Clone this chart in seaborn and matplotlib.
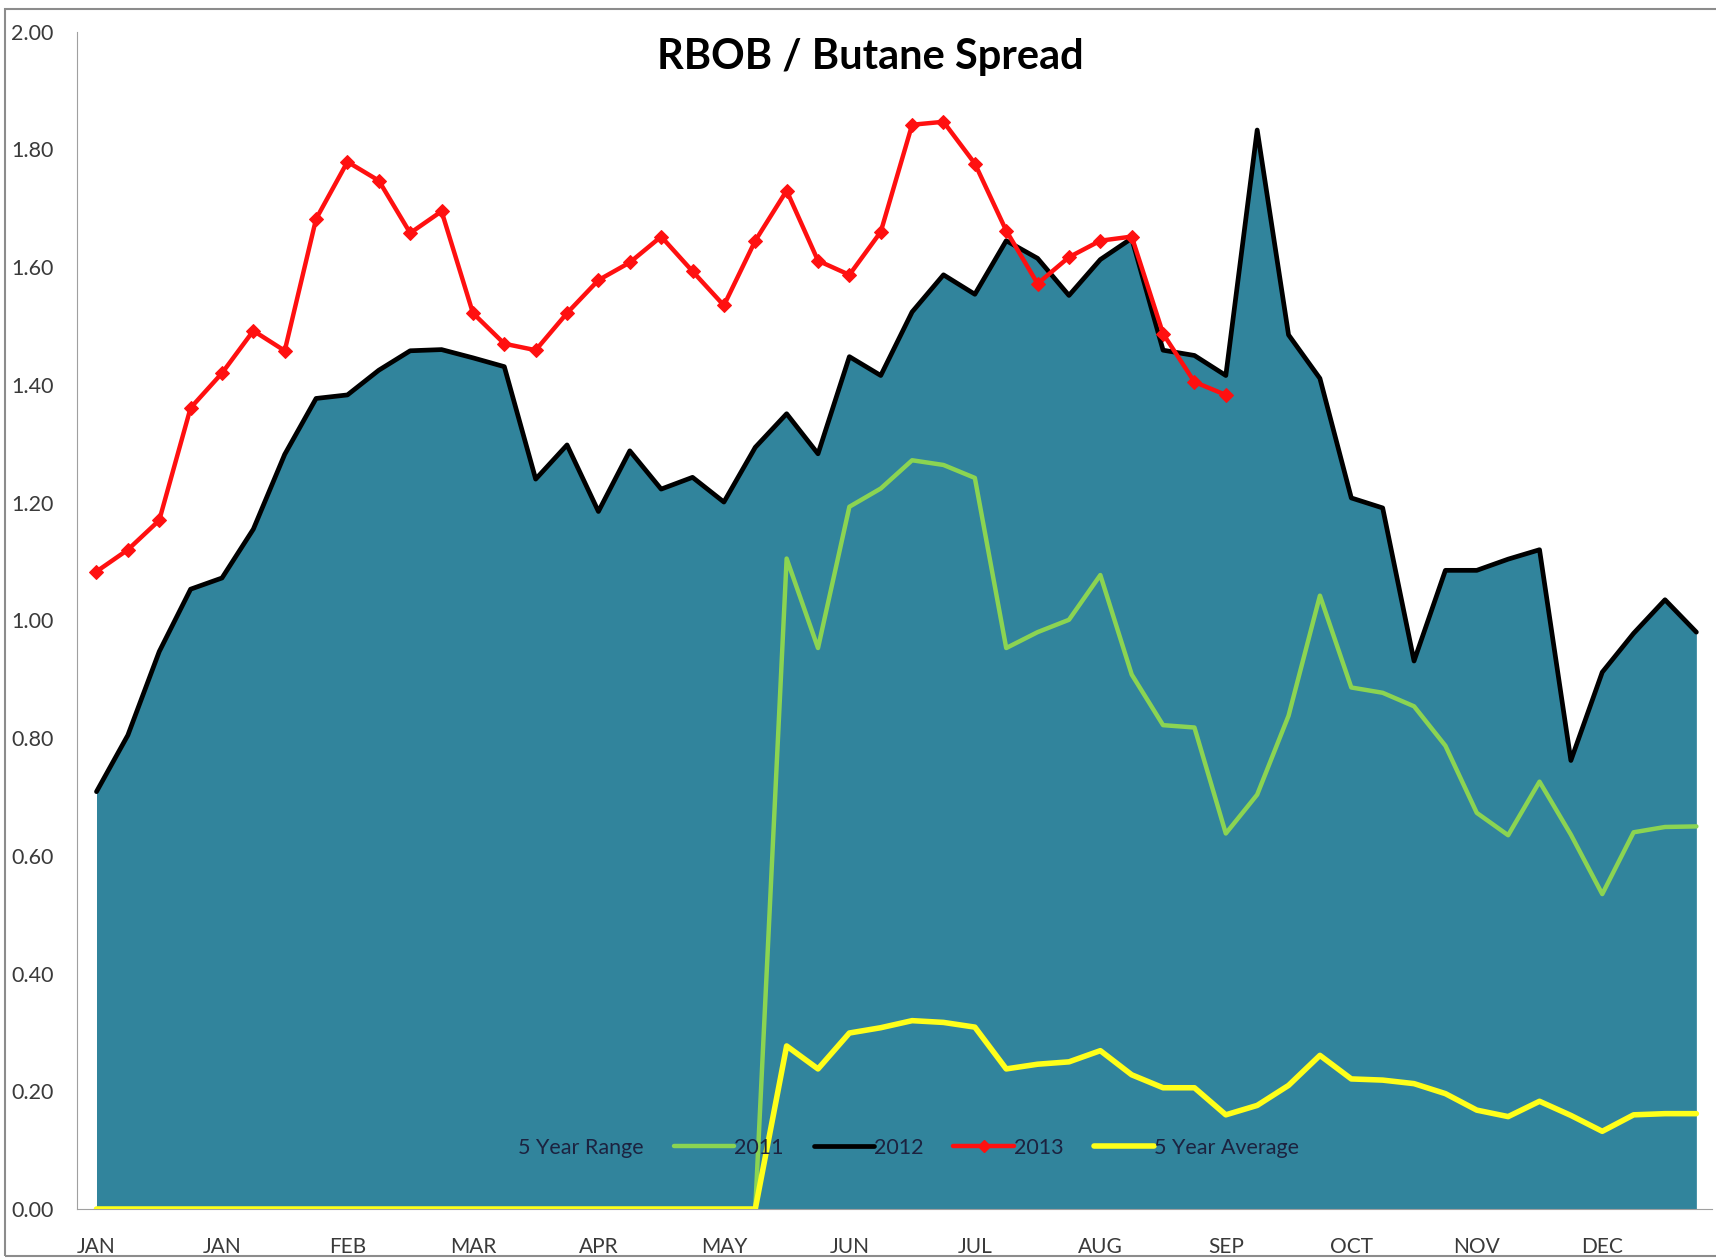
import numpy as np
import pandas as pd
import matplotlib.pyplot as plt
import seaborn as sns
from matplotlib.patches import Patch, Rectangle
from matplotlib.lines import Line2D

# Weekly spread values (52 weeks)
week = np.arange(52)

y2011 = [0, 0, 0, 0, 0, 0, 0, 0, 0, 0, 0, 0, 0, 0, 0, 0, 0, 0, 0, 0, 0, 0,
         1.105, 0.953, 1.193, 1.224, 1.272, 1.264, 1.242, 0.953, 0.980, 1.001,
         1.077, 0.908, 0.822, 0.818, 0.638, 0.704, 0.838, 1.042, 0.886, 0.877,
         0.854, 0.787, 0.673, 0.635, 0.726, 0.636, 0.535, 0.640, 0.649, 0.650]

y2012 = [0.709, 0.805, 0.947, 1.053, 1.072, 1.155, 1.282, 1.377, 1.383, 1.425,
         1.458, 1.460, 1.446, 1.431, 1.240, 1.298, 1.185, 1.288, 1.223, 1.243,
         1.201, 1.294, 1.351, 1.283, 1.448, 1.416, 1.524, 1.587, 1.554, 1.645,
         1.615, 1.552, 1.613, 1.649, 1.459, 1.450, 1.416, 1.833, 1.485, 1.411,
         1.208, 1.191, 0.931, 1.085, 1.085, 1.104, 1.120, 0.762, 0.912, 0.978,
         1.035, 0.980]

y2013 = [1.083, 1.120, 1.170, 1.361, 1.420, 1.492, 1.458, 1.682, 1.779, 1.747,
         1.658, 1.695, 1.522, 1.470, 1.459, 1.522, 1.578, 1.608, 1.652, 1.593,
         1.535, 1.645, 1.730, 1.611, 1.587, 1.660, 1.842, 1.847, 1.776, 1.662,
         1.572, 1.617, 1.645, 1.652, 1.487, 1.405, 1.383]

avg5 = [0, 0, 0, 0, 0, 0, 0, 0, 0, 0, 0, 0, 0, 0, 0, 0, 0, 0, 0, 0, 0, 0,
        0.277, 0.238, 0.299, 0.308, 0.320, 0.317, 0.309, 0.238, 0.246, 0.250,
        0.269, 0.228, 0.206, 0.206, 0.160, 0.176, 0.210, 0.261, 0.221, 0.219,
        0.213, 0.196, 0.168, 0.157, 0.183, 0.159, 0.132, 0.160, 0.162, 0.162]

# upper edge of the 5 year range band follows the 2012 series
range_high = y2012

month_labels = ["JAN", "JAN", "FEB", "MAR", "APR", "MAY", "JUN",
                "JUL", "AUG", "SEP", "OCT", "NOV", "DEC"]

teal = "#31849C"
green = "#8BD452"
red = "#FF1010"
yellow = "#FFFF1A"

sns.set_style("white")
plt.rcParams['font.family'] = ['Lato', 'DejaVu Sans']

fig = plt.figure(figsize=(17.16, 12.59), dpi=100)
ax = fig.add_axes([0.0449, 0.0397, 0.9528, 0.9351])

# 5 year range band
ax.fill_between(week, 0, range_high, color=teal, linewidth=0, zorder=1)

df11 = pd.DataFrame({"week": week, "v": y2011})
df12 = pd.DataFrame({"week": week, "v": y2012})
df13 = pd.DataFrame({"week": week[:len(y2013)], "v": y2013})
dfav = pd.DataFrame({"week": week, "v": avg5})

sns.lineplot(data=df11, x="week", y="v", color=green, linewidth=3.2, ax=ax, zorder=3)
sns.lineplot(data=dfav, x="week", y="v", color=yellow, linewidth=4, ax=ax, zorder=4)
sns.lineplot(data=df12, x="week", y="v", color="black", linewidth=3.4, ax=ax, zorder=5)
sns.lineplot(data=df13, x="week", y="v", color=red, linewidth=3.2, marker="D",
             markersize=7, markeredgecolor=red, ax=ax, zorder=6)

ax.set_xlim(-0.62, 51.5)
ax.set_ylim(0, 2.0)
ax.set_xlabel("")
ax.set_ylabel("")

# y axis
ax.set_yticks(np.arange(0, 2.01, 0.2))
ax.set_yticklabels([f"{v:.2f}" for v in np.arange(0, 2.01, 0.2)])
ax.tick_params(axis="y", direction="out", length=7, width=1, color="#A0A0A0",
               labelsize=15.5, labelcolor="#3A3A3A", pad=10)

# x axis: ticks between categories, labels every 4 weeks
ax.set_xticks(np.arange(-0.5, 52, 4))
ax.set_xticklabels([])
ax.set_xticks(np.arange(0, 52, 4), minor=True)
ax.set_xticklabels(month_labels, minor=True)
ax.tick_params(axis="x", which="major", direction="out", length=7, width=1,
               color="#A0A0A0")
ax.tick_params(axis="x", which="minor", length=0, labelsize=15,
               labelcolor="#3A3A3A", pad=20)

for s in ["top", "right"]:
    ax.spines[s].set_visible(False)
ax.spines["left"].set_color("#A0A0A0")
ax.spines["bottom"].set_color("#A0A0A0")

# legend
handles = [Patch(facecolor=teal, edgecolor=teal),
           Line2D([], [], color=green, linewidth=3.2),
           Line2D([], [], color="black", linewidth=3.4),
           Line2D([], [], color=red, linewidth=3.2, marker="D", markersize=6),
           Line2D([], [], color=yellow, linewidth=4)]
labels = ["5 Year Range", "2011", "2012", "2013", "5 Year Average"]
leg = ax.legend(handles, labels, loc="center", bbox_to_anchor=(0.49, 0.052),
                ncol=5, frameon=False, fontsize=15.5, handlelength=2.8,
                handletextpad=0.0, columnspacing=1.4)
for t in leg.get_texts():
    t.set_color("#1C2340")

fig.text(0.507, 0.955, "RBOB / Butane Spread", ha="center", va="center",
         fontsize=30, fontweight="bold", color="black")

# outer chart border
fig.patches.append(Rectangle((0.003, 0.002), 0.999, 0.991, transform=fig.transFigure,
                             fill=False, edgecolor="#8C8C8C", linewidth=1.5))

fig.savefig("out.png", dpi=100)
